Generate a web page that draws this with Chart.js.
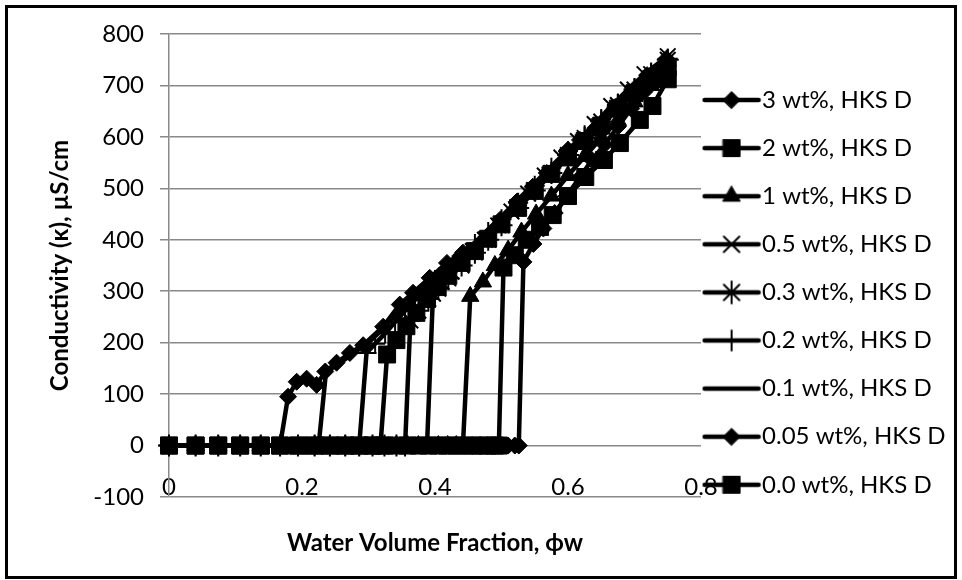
<!DOCTYPE html>
<html>
<head>
<meta charset="utf-8">
<script src="https://cdn.jsdelivr.net/npm/chart.js@4.4.1/dist/chart.umd.min.js"></script>
<style>
  html, body { margin: 0; padding: 0; background: #fff; }
  #conductivityChart { display: block; }
</style>
</head>
<body>
<canvas id="conductivityChart" width="962" height="580"></canvas>
<script>
// legend names, same order as the datasets
const seriesLabels = [
  "3 wt%, HKS D", "2 wt%, HKS D", "1 wt%, HKS D", "0.5 wt%, HKS D", "0.3 wt%, HKS D",
  "0.2 wt%, HKS D", "0.1 wt%, HKS D", "0.05 wt%, HKS D", "0.0 wt%, HKS D",
];

// water volume fraction (phi w) and conductivity (uS/cm) for each dose
const phi3 = [0, 0.04, 0.074, 0.107, 0.138, 0.167, 0.194, 0.219, 0.242, 0.265, 0.286, 0.306, 0.324, 0.342, 0.359, 0.375, 0.39, 0.405, 0.419, 0.432, 0.444, 0.457, 0.468, 0.479, 0.49, 0.5, 0.51, 0.52, 0.526, 0.533, 0.548, 0.563, 0.58, 0.598, 0.617, 0.636, 0.655, 0.675, 0.695, 0.715, 0.735, 0.75];
const kappa3 = [0, 0, 0, 0, 0, 0, 0, 0, 0, 0, 0, 0, 0, 0, 0, 0, 0, 0, 0, 0, 0, 0, 0, 0, 0, 0, 0, 0, 0, 357, 392, 422, 452, 485, 520, 555, 585, 620, 655, 688, 715, 738];

const phi2 = [0, 0.04, 0.074, 0.107, 0.138, 0.167, 0.194, 0.219, 0.242, 0.265, 0.286, 0.306, 0.324, 0.342, 0.359, 0.375, 0.39, 0.405, 0.419, 0.432, 0.444, 0.457, 0.468, 0.479, 0.49, 0.496, 0.503, 0.52, 0.538, 0.558, 0.577, 0.6, 0.626, 0.654, 0.678, 0.708, 0.727, 0.75];
const kappa2 = [0, 0, 0, 0, 0, 0, 0, 0, 0, 0, 0, 0, 0, 0, 0, 0, 0, 0, 0, 0, 0, 0, 0, 0, 0, 0, 346, 370, 400, 425, 448, 485, 522, 555, 588, 633, 660, 712];

const phi1 = [0, 0.04, 0.074, 0.107, 0.138, 0.167, 0.194, 0.219, 0.242, 0.265, 0.286, 0.306, 0.324, 0.342, 0.359, 0.375, 0.39, 0.405, 0.419, 0.432, 0.442, 0.453, 0.472, 0.49, 0.51, 0.53, 0.552, 0.575, 0.6, 0.625, 0.65, 0.675, 0.7, 0.725, 0.75];
const kappa1 = [0, 0, 0, 0, 0, 0, 0, 0, 0, 0, 0, 0, 0, 0, 0, 0, 0, 0, 0, 0, 0, 290, 318, 350, 380, 415, 450, 485, 525, 562, 598, 632, 668, 700, 732];

const phi05 = [0, 0.04, 0.074, 0.107, 0.138, 0.167, 0.194, 0.219, 0.242, 0.265, 0.286, 0.306, 0.324, 0.342, 0.359, 0.375, 0.388, 0.397, 0.41, 0.425, 0.44, 0.457, 0.475, 0.495, 0.515, 0.54, 0.565, 0.59, 0.615, 0.64, 0.665, 0.69, 0.715, 0.75];
const kappa05 = [0, 0, 0, 0, 0, 0, 0, 0, 0, 0, 0, 0, 0, 0, 0, 0, 0, 295, 318, 338, 358, 378, 400, 428, 455, 490, 525, 560, 592, 625, 660, 692, 722, 757];

const phi03 = [0, 0.04, 0.074, 0.107, 0.138, 0.167, 0.194, 0.219, 0.242, 0.265, 0.286, 0.306, 0.324, 0.342, 0.355, 0.363, 0.375, 0.39, 0.405, 0.42, 0.44, 0.46, 0.48, 0.5, 0.525, 0.55, 0.575, 0.6, 0.625, 0.65, 0.675, 0.7, 0.725, 0.75];
const kappa03 = [0, 0, 0, 0, 0, 0, 0, 0, 0, 0, 0, 0, 0, 0, 0, 243, 262, 285, 305, 325, 350, 375, 400, 428, 462, 496, 530, 565, 598, 630, 662, 692, 722, 750];

const phi02 = [0, 0.04, 0.074, 0.107, 0.138, 0.167, 0.194, 0.219, 0.242, 0.265, 0.286, 0.297, 0.31, 0.325, 0.34, 0.355, 0.37, 0.385, 0.4, 0.42, 0.44, 0.46, 0.48, 0.5, 0.525, 0.55, 0.575, 0.6, 0.625, 0.65, 0.675, 0.7, 0.725, 0.75];
const kappa02 = [0, 0, 0, 0, 0, 0, 0, 0, 0, 0, 0, 180, 198, 218, 240, 262, 283, 302, 322, 345, 368, 392, 415, 440, 472, 505, 540, 572, 603, 635, 665, 695, 725, 752];

const phi01 = [0, 0.04, 0.074, 0.107, 0.138, 0.167, 0.194, 0.219, 0.225, 0.236, 0.25, 0.265, 0.28, 0.3, 0.32, 0.34, 0.36, 0.38, 0.4, 0.42, 0.44, 0.46, 0.48, 0.5, 0.525, 0.55, 0.575, 0.6, 0.625, 0.65, 0.675, 0.7, 0.725, 0.75];
const kappa01 = [0, 0, 0, 0, 0, 0, 0, 0, 0, 142, 155, 168, 182, 200, 225, 252, 278, 303, 325, 348, 372, 395, 420, 445, 478, 510, 543, 575, 605, 637, 667, 698, 727, 755];

const phi005 = [0, 0.04, 0.074, 0.107, 0.138, 0.167, 0.179, 0.192, 0.207, 0.222, 0.235, 0.252, 0.272, 0.292, 0.322, 0.347, 0.367, 0.392, 0.418, 0.442, 0.478, 0.498, 0.523, 0.547, 0.568, 0.6, 0.618, 0.641, 0.671, 0.698, 0.719, 0.748];
const kappa005 = [0, 0, 0, 0, 0, 0, 95, 124, 130, 118, 144, 161, 180, 195, 231, 274, 297, 326, 355, 375, 406, 439, 474, 503, 530, 575, 594, 617, 658, 691, 720, 752];

const phi0 = [0, 0.04, 0.074, 0.107, 0.138, 0.167, 0.194, 0.219, 0.242, 0.265, 0.286, 0.306, 0.318, 0.328, 0.342, 0.357, 0.372, 0.388, 0.404, 0.42, 0.44, 0.46, 0.48, 0.5, 0.525, 0.55, 0.575, 0.6, 0.625, 0.65, 0.675, 0.7, 0.725, 0.75];
const kappa0 = [0, 0, 0, 0, 0, 0, 0, 0, 0, 0, 0, 0, 0, 177, 205, 232, 258, 285, 308, 330, 355, 378, 402, 430, 462, 495, 528, 560, 592, 622, 655, 685, 712, 735];

const seriesPhi = [phi3, phi2, phi1, phi05, phi03, phi02, phi01, phi005, phi0];
const seriesKappa = [kappa3, kappa2, kappa1, kappa05, kappa03, kappa02, kappa01, kappa005, kappa0];

// marker per series (Excel-like black markers)
const markers = [
  { style: "rectRot", radius: 8.5, border: 1 },
  { style: "rect", radius: 12, border: 1 },
  { style: "triangle", radius: 10, border: 1 },
  { style: "crossRot", radius: 11, border: 2 },
  { style: "star", radius: 11, border: 2 },
  { style: "cross", radius: 10, border: 2 },
  { style: "circle", radius: 0, border: 0 },
  { style: "rectRot", radius: 8.5, border: 1 },
  { style: "rect", radius: 12, border: 1 },
];

const fontFamily = 'Lato, "Noto Sans", sans-serif';
const gridGray = "#898989";

const datasets = seriesLabels.map((label, i) => ({
  label: label,
  data: seriesPhi[i].map((p, j) => ({ x: p, y: seriesKappa[i][j] })),
  borderColor: "#000",
  backgroundColor: "#000",
  borderWidth: 4.5,
  borderJoinStyle: "round",
  borderCapStyle: "round",
  tension: 0,
  pointStyle: markers[i].style,
  pointRadius: markers[i].radius,
  pointBorderWidth: markers[i].border,
  pointBackgroundColor: "#000",
  pointBorderColor: "#000",
  clip: false,
}));

// line-with-marker swatch for the legend
function legendSwatch(i) {
  const c = document.createElement("canvas");
  c.width = 60;
  c.height = 26;
  const g = c.getContext("2d");
  g.strokeStyle = "#000";
  g.fillStyle = "#000";
  g.lineWidth = 4.5;
  g.lineCap = "round";
  g.beginPath();
  g.moveTo(3, 13);
  g.lineTo(57, 13);
  g.stroke();
  const m = markers[i];
  if (m.radius > 0) {
    g.lineWidth = m.border;
    Chart.helpers.drawPoint(g, { pointStyle: m.style, radius: m.radius, rotation: 0, borderWidth: m.border }, 30, 13);
  }
  return c;
}

// keep the legend column next to the plot, like the Excel layout
const legendPlacement = {
  id: "legendPlacement",
  afterLayout(chart) {
    const lg = chart.legend;
    lg.left = chart.chartArea.right - 12;
    lg.right = chart.width;
    lg.top = 63.9;
    lg.bottom = chart.height;
  },
};

// black outline round the whole chart
const chartFrame = {
  id: "chartFrame",
  afterDraw(chart) {
    const ctx = chart.ctx;
    ctx.save();
    ctx.strokeStyle = "#000";
    ctx.lineWidth = 3;
    ctx.strokeRect(6.5, 6.5, 949, 571);
    ctx.restore();
  },
};

const conductivityChart = new Chart(document.querySelector("#conductivityChart"), {
  type: "line",
  data: { datasets: datasets },
  options: {
    responsive: false,
    animation: false,
    events: [],
    layout: { padding: { left: 41.6, top: 34, right: 31, bottom: 18.6 } },
    scales: {
      x: {
        type: "linear",
        min: 0,
        max: 0.8,
        grid: { display: false, drawTicks: false },
        border: { display: false },
        ticks: {
          stepSize: 0.2,
          mirror: true, // labels sit just above the bottom gridline
          padding: -5,
          color: "#000",
          font: { family: fontFamily, size: 24 },
          maxRotation: 0,
        },
        title: {
          display: true,
          text: "Water Volume Fraction, ϕw",
          color: "#000",
          font: { family: fontFamily, size: 24, weight: "bold" },
          padding: { top: 4, bottom: 4 },
        },
        afterFit(scale) {
          scale.height = 64.4;
        },
      },
      y: {
        min: -100,
        max: 800,
        grid: { color: gridGray, lineWidth: 1.5, tickLength: 9, drawTicks: true },
        border: { display: true, color: gridGray, width: 1.5 },
        ticks: {
          stepSize: 100,
          padding: 16,
          color: "#000",
          font: { family: fontFamily, size: 24 },
        },
        title: {
          display: true,
          text: "Conductivity (κ), µS/cm",
          color: "#000",
          font: { family: fontFamily, size: 24, weight: "bold" },
          padding: { top: 4, bottom: 4 },
        },
        afterFit(scale) {
          scale.width = 127.4;
        },
      },
    },
    plugins: {
      tooltip: { enabled: false },
      legend: {
        position: "right",
        align: "start",
        maxWidth: 230,
        labels: {
          usePointStyle: true,
          pointStyleWidth: 37,
          padding: 24.1,
          color: "#000",
          font: { family: fontFamily, size: 24 },
          generateLabels(chart) {
            return chart.data.datasets.map((ds, i) => ({
              text: ds.label,
              pointStyle: legendSwatch(i),
              fillStyle: "#000",
              strokeStyle: "#000",
              fontColor: "#000",
              lineWidth: 0,
              hidden: false,
              datasetIndex: i,
            }));
          },
        },
      },
    },
  },
  plugins: [legendPlacement, chartFrame],
});
</script>
</body>
</html>
